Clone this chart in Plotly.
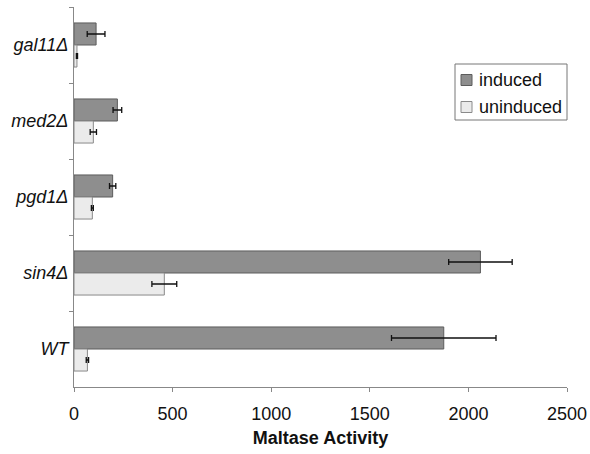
import plotly.graph_objects as go

categories = ["gal11Δ", "med2Δ", "pgd1Δ", "sin4Δ", "WT"]
induced = [112, 220, 196, 2061, 1875]
induced_err = [45, 22, 16, 161, 265]
uninduced = [15, 98, 93, 458, 68]
uninduced_err = [3, 16, 5, 63, 6]
xticks = [0, 500, 1000, 1500, 2000, 2500]
series_names = ["induced", "uninduced"]
fills = ["#8e8e8e", "#ebebeb"]
outlines = ["#5c5c5c", "#8a8a8a"]

labels = [f"<i>{c}</i>" for c in categories]

fig = go.Figure()
for name, vals, errs, fc, lc in zip(series_names, [induced, uninduced],
                                     [induced_err, uninduced_err], fills, outlines):
    fig.add_trace(go.Bar(
        y=labels, x=vals, orientation="h", name=name,
        marker=dict(color=fc, line=dict(color=lc, width=1)),
        error_x=dict(type="data", array=errs, color="#111111", thickness=1.3, width=3),
        showlegend=False,
    ))

# plot area in pixels: x 74..567, y 7..387
L, R, T, B = 74, 567, 7, 387
def px(x): return (x - L) / (R - L)
def py(y): return (B - y) / (B - T)

shapes = [dict(type="rect", xref="paper", yref="paper",
               x0=px(455), x1=px(567), y0=py(120), y1=py(64),
               line=dict(color="#777777", width=1), fillcolor="white")]
annotations = []
for i, (name, fc, lc) in enumerate(zip(series_names, fills, outlines)):
    cy = 80 + i * 27
    shapes.append(dict(type="rect", xref="paper", yref="paper",
                       x0=px(461), x1=px(472), y0=py(cy + 5.5), y1=py(cy - 5.5),
                       line=dict(color=lc, width=1), fillcolor=fc))
    annotations.append(dict(xref="paper", yref="paper", x=px(477), y=py(cy),
                            xanchor="left", yanchor="middle", text=name,
                            showarrow=False, font=dict(size=18, color="#111111")))

fig.update_layout(
    width=590, height=454,
    margin=dict(l=L, r=590 - R, t=T, b=454 - B, autoexpand=False),
    paper_bgcolor="white", plot_bgcolor="white",
    barmode="group", bargap=0.42, bargroupgap=0,
    font=dict(family="Liberation Sans, Arial, sans-serif", color="#111111"),
    shapes=shapes, annotations=annotations,
    xaxis=dict(
        range=[0, 2500], tickvals=xticks, ticktext=[str(v) for v in xticks],
        showgrid=False, zeroline=False, showline=True, linecolor="#888888", linewidth=1,
        ticks="outside", ticklen=4, tickcolor="#888888", automargin=False,
        tickfont=dict(size=18), ticklabelstandoff=6, fixedrange=True,
        title=dict(text="<b>Maltase Activity</b>", font=dict(size=18), standoff=8),
    ),
    yaxis=dict(
        autorange="reversed", showgrid=False, zeroline=False,
        showline=True, linecolor="#888888", linewidth=1, automargin=False,
        ticks="outside", ticklen=4, tickcolor="#888888", tickson="boundaries",
        tickfont=dict(size=18), ticklabelstandoff=1,
    ),
)

fig.write_html("out.html")
